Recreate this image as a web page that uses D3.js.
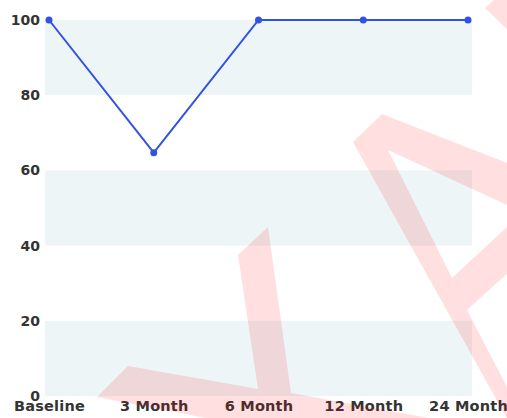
<!DOCTYPE html>
<html>
<head>
<meta charset="utf-8">
<script src="https://cdn.jsdelivr.net/npm/d3@7"></script>
<style>
  body { margin: 0; background: #fff; }
  svg { display: block; font-family: "DejaVu Sans", sans-serif; }
</style>
</head>
<body>
<div id="chart"></div>
<script>
// data
var categories = ["Baseline", "3 Month", "6 Month", "12 Month", "24 Month"];
var values = [100, 64.7, 100, 100, 100];
var yTicks = [0, 20, 40, 60, 80, 100];
var bands = [[80, 100], [40, 60], [0, 20]];

var width = 507, height = 418;

var svg = d3.select("#chart").append("svg")
    .attr("width", width)
    .attr("height", height);

// scales
var x = d3.scalePoint().domain(categories).range([49, 468]);
var y = d3.scaleLinear().domain([0, 100]).range([396, 20]);

// shaded bands
svg.selectAll(".band")
    .data(bands)
    .enter().append("rect")
    .attr("class", "band")
    .attr("x", x.range()[0] - 4)
    .attr("width", x.range()[1] - x.range()[0] + 8)
    .attr("y", function(d) { return y(d[1]); })
    .attr("height", function(d) { return y(d[0]) - y(d[1]); })
    .style("fill", "#edf5f7");

// y axis labels
var yAxis = d3.axisLeft(y).tickValues(yTicks).tickSize(0).tickPadding(0);
var gy = svg.append("g")
    .attr("transform", "translate(40,0)")
    .call(yAxis);
gy.select(".domain").remove();
gy.selectAll("text")
    .style("font-size", "14px")
    .style("font-weight", 700)
    .style("font-family", "DejaVu Sans")
    .style("fill", "#333");

// x axis labels
var xAxis = d3.axisBottom(x).tickSize(0).tickPadding(0);
var gx = svg.append("g")
    .attr("transform", "translate(0,401)")
    .call(xAxis);
gx.select(".domain").remove();
gx.selectAll("text")
    .style("font-size", "14.5px")
    .style("font-weight", 700)
    .style("font-family", "DejaVu Sans")
    .style("letter-spacing", "0.2px")
    .style("fill", "#333");

// line
var line = d3.line()
    .x(function(d, i) { return x(categories[i]); })
    .y(function(d) { return y(d); });

svg.append("path")
    .datum(values)
    .attr("d", line)
    .style("fill", "none")
    .style("stroke", "#3452e1")
    .style("stroke-width", 2);

svg.selectAll(".dot")
    .data(values)
    .enter().append("circle")
    .attr("class", "dot")
    .attr("cx", function(d, i) { return x(categories[i]); })
    .attr("cy", function(d) { return y(d); })
    .attr("r", 3.5)
    .style("fill", "#3452e1");

// watermark shapes (decoration)
var watermark = [
  [[97,397],[128,366],[258,389],[238,255],[268,227],[291,393],[440,420],[216,420]],
  [[353,142],[382,114],[520,168],[520,211],[388,150],[452,278],[520,215],[520,262],[467,310],[520,412],[520,440],[519,440]],
  [[485,8],[494,0],[520,0],[520,42]]
];
svg.selectAll(".wm")
    .data(watermark)
    .enter().append("polygon")
    .attr("class", "wm")
    .attr("points", function(d) { return d.join(" "); })
    .style("fill", "red")
    .style("opacity", 0.125);
</script>
</body>
</html>
